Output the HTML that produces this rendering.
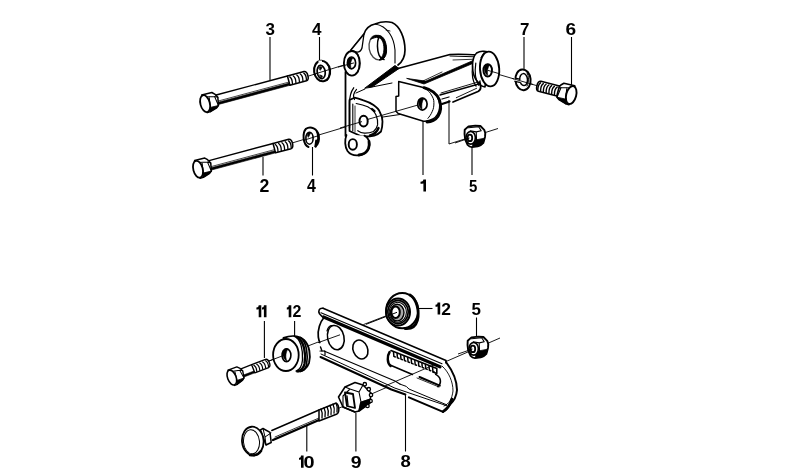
<!DOCTYPE html>
<html><head><meta charset="utf-8"><style>
html,body{margin:0;padding:0;background:#fff;width:799px;height:473px;overflow:hidden}
svg{display:block;will-change:transform}
text{font-family:"Liberation Sans",sans-serif}
</style></head><body>
<svg width="799" height="473" viewBox="0 0 799 473">
<rect width="799" height="473" fill="#fff"/>
<text x="265.50" y="34.50" font-family="Liberation Sans" font-weight="bold" font-size="17.00" textLength="9.45" lengthAdjust="spacingAndGlyphs">3</text>
<text x="312.00" y="34.50" font-family="Liberation Sans" font-weight="bold" font-size="17.00" textLength="9.50" lengthAdjust="spacingAndGlyphs">4</text>
<text x="520.00" y="34.50" font-family="Liberation Sans" font-weight="bold" font-size="17.00" textLength="9.45" lengthAdjust="spacingAndGlyphs">7</text>
<text x="565.50" y="34.50" font-family="Liberation Sans" font-weight="bold" font-size="17.00" textLength="10.63" lengthAdjust="spacingAndGlyphs">6</text>
<text x="259.50" y="192.00" font-family="Liberation Sans" font-weight="bold" font-size="17.71" textLength="9.85" lengthAdjust="spacingAndGlyphs">2</text>
<text x="307.00" y="192.00" font-family="Liberation Sans" font-weight="bold" font-size="17.71" textLength="8.86" lengthAdjust="spacingAndGlyphs">4</text>
<text x="469.00" y="191.50" font-family="Liberation Sans" font-weight="bold" font-size="17.00" textLength="8.34" lengthAdjust="spacingAndGlyphs">5</text>
<text x="292.40" y="317.30" font-family="Liberation Sans" font-weight="bold" font-size="17.00" textLength="8.87" lengthAdjust="spacingAndGlyphs">2</text>
<text x="441.20" y="314.50" font-family="Liberation Sans" font-weight="bold" font-size="17.00" textLength="9.72" lengthAdjust="spacingAndGlyphs">2</text>
<text x="471.50" y="314.50" font-family="Liberation Sans" font-weight="bold" font-size="17.00" textLength="9.45" lengthAdjust="spacingAndGlyphs">5</text>
<text x="303.60" y="467.80" font-family="Liberation Sans" font-weight="bold" font-size="17.28" textLength="11.08" lengthAdjust="spacingAndGlyphs">0</text>
<text x="350.80" y="467.80" font-family="Liberation Sans" font-weight="bold" font-size="17.28" textLength="10.81" lengthAdjust="spacingAndGlyphs">9</text>
<text x="400.60" y="467.00" font-family="Liberation Sans" font-weight="bold" font-size="17.28" textLength="10.29" lengthAdjust="spacingAndGlyphs">8</text>
<path d="M 423.40,179.50 L 426.00,179.50 L 426.00,191.50 L 423.40,191.50 L 423.40,183.50 C 422.60,183.60 421.30,183.70 420.50,183.70 L 420.50,181.80 C 422.30,181.70 423.10,180.90 423.40,179.50 Z" fill="#000"/>
<path d="M 258.70,305.30 L 261.30,305.30 L 261.30,317.30 L 258.70,317.30 L 258.70,309.30 C 257.90,309.40 257.20,309.50 256.40,309.50 L 256.40,307.60 C 258.20,307.50 258.40,306.70 258.70,305.30 Z" fill="#000"/>
<path d="M 263.90,305.30 L 266.50,305.30 L 266.50,317.30 L 263.90,317.30 L 263.90,309.30 C 263.10,309.40 262.80,309.50 262.00,309.50 L 262.00,307.60 C 263.80,307.50 263.60,306.70 263.90,305.30 Z" fill="#000"/>
<path d="M 288.70,305.30 L 291.30,305.30 L 291.30,317.30 L 288.70,317.30 L 288.70,309.30 C 287.90,309.40 287.60,309.50 286.80,309.50 L 286.80,307.60 C 288.60,307.50 288.40,306.70 288.70,305.30 Z" fill="#000"/>
<path d="M 437.60,302.50 L 440.20,302.50 L 440.20,314.50 L 437.60,314.50 L 437.60,306.50 C 436.80,306.60 436.30,306.70 435.50,306.70 L 435.50,304.80 C 437.30,304.70 437.30,303.90 437.60,302.50 Z" fill="#000"/>
<path d="M 301.00,455.60 L 303.60,455.60 L 303.60,467.80 L 301.00,467.80 L 301.00,459.60 C 300.20,459.70 299.80,459.80 299.00,459.80 L 299.00,457.90 C 300.80,457.80 300.70,457.00 301.00,455.60 Z" fill="#000"/>
<line x1="270" y1="37" x2="270" y2="80" stroke="#000" stroke-width="1.1"/>
<line x1="319.5" y1="37" x2="319.5" y2="61" stroke="#000" stroke-width="1.1"/>
<line x1="524" y1="37" x2="524" y2="70" stroke="#000" stroke-width="1.1"/>
<line x1="571.5" y1="37" x2="571.5" y2="85" stroke="#000" stroke-width="1.1"/>
<line x1="263" y1="157" x2="263" y2="175.5" stroke="#000" stroke-width="1.1"/>
<line x1="312.5" y1="147" x2="312.5" y2="175.5" stroke="#000" stroke-width="1.1"/>
<line x1="423" y1="121" x2="423" y2="175" stroke="#000" stroke-width="1.1"/>
<line x1="472" y1="147" x2="472" y2="175" stroke="#000" stroke-width="1.1"/>
<line x1="264.4" y1="321" x2="264.4" y2="358" stroke="#000" stroke-width="1.1"/>
<line x1="294.6" y1="321" x2="294.6" y2="336" stroke="#000" stroke-width="1.1"/>
<line x1="418" y1="308.5" x2="432.5" y2="308.5" stroke="#000" stroke-width="1.1"/>
<line x1="476.5" y1="317.5" x2="476.5" y2="337" stroke="#000" stroke-width="1.1"/>
<line x1="306.8" y1="426" x2="306.8" y2="451.5" stroke="#000" stroke-width="1.1"/>
<line x1="355.9" y1="413" x2="355.9" y2="451.5" stroke="#000" stroke-width="1.1"/>
<line x1="405.5" y1="395" x2="405.5" y2="451.5" stroke="#000" stroke-width="1.1"/>
<line x1="307" y1="76.5" x2="352" y2="62.5" stroke="#000" stroke-width="0.9"/>
<line x1="292" y1="143" x2="422" y2="104" stroke="#000" stroke-width="0.9"/>
<line x1="487" y1="71" x2="538" y2="86" stroke="#000" stroke-width="0.9"/>
<line x1="449" y1="144" x2="498" y2="128.5" stroke="#000" stroke-width="0.9"/>
<line x1="269" y1="361" x2="396" y2="312" stroke="#000" stroke-width="0.9"/>
<line x1="337" y1="409" x2="500" y2="338" stroke="#000" stroke-width="0.9"/>
<line x1="449" y1="95" x2="449" y2="144" stroke="#000" stroke-width="1.0"/>
<path d="M 366,87 L 396,67 L 450,54.5 L 478,54 L 499,70 L 486,87 L 479,91 L 453,102 L 440,96 L 439,106 L 427,121 L 400,115 L 383,117 L 378,107 L 365,99 L 356,93 Z" fill="#fff" stroke="#000" stroke-width="0" stroke-linejoin="round" stroke-linecap="round" />
<path d="M 345.5,70 L 360,72 L 366,87 L 356,93 L 381,110 L 382,123 L 376,132 L 366,145 L 366,152 L 352,157 L 344,148 L 345.5,136 Z" fill="#fff" stroke="#000" stroke-width="0" stroke-linejoin="round" stroke-linecap="round" />
<path d="M 351,50 L 364,34 C 366,28 370,25 375,24 C 380,22 386,21 392,22.5 C 400,26 405,38 405,50 C 405,57 402,62 398,65" fill="#fff" stroke="#000" stroke-width="1.7" stroke-linejoin="round" stroke-linecap="round" />
<path d="M 375,24 C 388,26 394,38 395,50 L 395,63" fill="none" stroke="#000" stroke-width="1.1" stroke-linejoin="round" stroke-linecap="round" />
<path d="M 386,30 L 390,31" fill="none" stroke="#000" stroke-width="0.9" stroke-linejoin="round" stroke-linecap="round" />
<path d="M 351,50 L 364,34 L 362,48 C 361,51 359,52.5 356,52 Z" fill="#fff" stroke="#000" stroke-width="1.3" stroke-linejoin="round" stroke-linecap="round" />
<ellipse cx="377.6" cy="47.6" rx="8.5" ry="12.4" transform="rotate(-10 377.6 47.6)" fill="#fff" stroke="#444" stroke-width="1.3"/>
<path d="M 371,39 C 373,35.5 378,34.5 381,36 C 385,38 387,45 386.5,52 C 386,57 383,60.5 379,60 C 382,58 384,54 384,49 C 384,43 382,38 378,37.5 C 376,37 374,38 371,39 Z" fill="#000" stroke="#000" stroke-width="1.0" stroke-linejoin="round" stroke-linecap="round" />
<path d="M 378.5,38 C 377,42 377,50 379,55 C 380,57.5 382,59 384,59.5" fill="none" stroke="#000" stroke-width="1.5" stroke-linejoin="round" stroke-linecap="round" />
<ellipse cx="351.9" cy="63.3" rx="8.0" ry="12.3" fill="#fff" stroke="#000" stroke-width="1.9"/>
<path d="M 357.5,54 C 359.5,57 360,66 358,72" fill="none" stroke="#000" stroke-width="1.0" stroke-linejoin="round" stroke-linecap="round" />
<ellipse cx="351.5" cy="62.9" rx="4.1" ry="5.9" fill="#fff" stroke="#000" stroke-width="1.7"/>
<line x1="338" y1="67.1" x2="354" y2="62.9" stroke="#000" stroke-width="0.9"/>
<path d="M 348,60 C 349,57 352,57 353,58 C 351,60 350,64 351,68 C 349,67 347,64 348,60 Z" fill="#000" stroke="#000" stroke-width="0.5" stroke-linejoin="round" stroke-linecap="round" />
<path d="M 345.5,72 L 345.5,136" fill="none" stroke="#000" stroke-width="1.8" stroke-linejoin="round" stroke-linecap="round" />
<path d="M 365,88 L 395,65.5 L 399,68.5 L 372,87 Z" fill="#000" stroke="#000" stroke-width="1.0" stroke-linejoin="round" stroke-linecap="round" />
<path d="M 398,68.5 L 450,54.5 C 460,54 470,54.5 478,55" fill="none" stroke="#000" stroke-width="1.6" stroke-linejoin="round" stroke-linecap="round" />
<path d="M 372,87 L 392,83" fill="none" stroke="#000" stroke-width="1" stroke-linejoin="round" stroke-linecap="round" />
<path d="M 356,93 L 365,89" fill="none" stroke="#000" stroke-width="1" stroke-linejoin="round" stroke-linecap="round" />
<path d="M 407,78.5 L 424,84 L 481,60 L 480,57.5 L 426,81 Z" fill="#000" stroke="#000" stroke-width="0.8" stroke-linejoin="round" stroke-linecap="round" />
<path d="M 423,81 L 442,72" fill="none" stroke="#000" stroke-width="0.8" stroke-linejoin="round" stroke-linecap="round" />
<path d="M 450,56 L 481,57" fill="none" stroke="#000" stroke-width="1" stroke-linejoin="round" stroke-linecap="round" />
<path d="M 453,60 L 480,59" fill="none" stroke="#000" stroke-width="0.8" stroke-linejoin="round" stroke-linecap="round" />
<path d="M 476.6,53 C 479,51.5 482,51 484,51.3 L 489,52 L 485,87 C 482,86.5 480,85.5 478.7,83 C 474.5,79 472.5,72 472.5,66 C 472.5,60 474,55.5 476.6,53 Z" fill="#fff" stroke="#000" stroke-width="1.6" stroke-linejoin="round" stroke-linecap="round" />
<path d="M 472.6,66 C 471.8,72 472.5,81 476,86.2" fill="none" stroke="#000" stroke-width="1.2" stroke-linejoin="round" stroke-linecap="round" />
<path d="M 475.8,63 C 474.8,70 475.2,80 478.9,85.3" fill="none" stroke="#000" stroke-width="1.2" stroke-linejoin="round" stroke-linecap="round" />
<ellipse cx="489.6" cy="69" rx="9.6" ry="17.4" transform="rotate(-4 489.6 69)" fill="#fff" stroke="#000" stroke-width="1.9"/>
<path d="M 484,52.5 L 481,57.5" fill="none" stroke="#000" stroke-width="1.0" stroke-linejoin="round" stroke-linecap="round" />
<ellipse cx="487.7" cy="70.3" rx="4.3" ry="6.2" fill="#fff" stroke="#000" stroke-width="1.9"/>
<path d="M 484.7,66.3 C 485.7,63.8 488.7,63.8 489.7,64.8 C 487.7,67.3 487.2,71.3 487.7,75.3 C 485.2,74.3 483.7,70.3 484.7,66.3 Z" fill="#000" stroke="#000" stroke-width="0.5" stroke-linejoin="round" stroke-linecap="round" />
<line x1="487.7" y1="70.3" x2="500" y2="73.9" stroke="#000" stroke-width="0.9"/>
<path d="M 398.7,81.6 L 421.3,87.1 C 427,88.5 433,91 436,95 C 439.5,99.5 440,104 439.6,108 C 439,112.5 437,116.5 433,119 C 430,120.8 427,121.5 423.5,121.2 L 398.2,113.5 L 396,111.3 L 396,96.4 L 398.7,95.9 Z" fill="#fff" stroke="#000" stroke-width="1.5" stroke-linejoin="round" stroke-linecap="round" />
<path d="M 424,87.6 C 431,89.5 437,93.5 439.5,100 C 441.5,106 441,112 438,116.5 C 435.5,120 431.5,122 427,122" fill="none" stroke="#000" stroke-width="2.8" stroke-linejoin="round" stroke-linecap="round" />
<path d="M 423.5,88.2 C 427,89.5 429.5,91.5 430.6,93.7 C 432.8,97 434,99.5 433.9,102.5 C 434,106 433.5,109 432.3,111.3 C 431,114.5 429.5,116.5 427.9,118.4" fill="none" stroke="#000" stroke-width="1.0" stroke-linejoin="round" stroke-linecap="round" />
<ellipse cx="422.4" cy="104.1" rx="4.7" ry="6" fill="#fff" stroke="#000" stroke-width="1.7"/>
<path d="M 419,100 C 420,97.5 423,97.5 424,98.5 C 422,101 421.5,105 422,109 C 419.5,108 418,104 419,100 Z" fill="#000" stroke="#000" stroke-width="0.5" stroke-linejoin="round" stroke-linecap="round" />
<path d="M 433,117 L 437,115" fill="none" stroke="#000" stroke-width="1.2" stroke-linejoin="round" stroke-linecap="round" stroke-opacity="0"/>
<path d="M 440,95 L 477,84.5 C 479,84 480,83 480,81" fill="none" stroke="#000" stroke-width="1.4" stroke-linejoin="round" stroke-linecap="round" />
<path d="M 442,99 L 449,97" fill="none" stroke="#000" stroke-width="1.3" stroke-linejoin="round" stroke-linecap="round" />
<path d="M 442,104 L 449.5,101.5" fill="none" stroke="#000" stroke-width="2.2" stroke-linejoin="round" stroke-linecap="round" />
<path d="M 456.3,97.7 L 476.6,88.3" fill="none" stroke="#000" stroke-width="0.9" stroke-linejoin="round" stroke-linecap="round" />
<path d="M 453,102 L 478,91.5 C 481,90 481,86 480,83" fill="none" stroke="#000" stroke-width="1.8" stroke-linejoin="round" stroke-linecap="round" />
<path d="M 441,93 L 478,82" fill="none" stroke="#000" stroke-width="0.9" stroke-linejoin="round" stroke-linecap="round" />
<path d="M 383,117 L 400,114.5" fill="none" stroke="#000" stroke-width="1.0" stroke-linejoin="round" stroke-linecap="round" />
<path d="M 349.5,100 L 354.5,97.7 C 358,98.5 360,99.2 362.8,100.2 C 367,101.5 370.5,103 373.5,105.1 C 377,107.5 379,109.5 380,112.5 C 382,116 382.7,119 382.5,121.6 C 382.5,125 382,128.5 381,131.5 C 379,133.5 377,135 374.3,135.6 C 371,136.3 367.5,136.6 364.4,136.5 C 361,136.3 358.5,135.3 356.2,134 L 349.5,131 Z" fill="#fff" stroke="#000" stroke-width="1.8" stroke-linejoin="round" stroke-linecap="round" />
<path d="M 356.2,103.5 C 360,104.3 364,105.3 367.7,106.8 C 371.5,109 374.5,111.5 376,115 C 377.5,118.5 378,121.5 377.6,124.9 C 377,127.5 375.5,130 373.5,131.5 C 370.5,132.8 367.5,133.3 364.4,133.2 C 362,133 359.5,132 357.8,130.7" fill="none" stroke="#000" stroke-width="1.2" stroke-linejoin="round" stroke-linecap="round" />
<path d="M 372,109 L 374.5,111.2" fill="none" stroke="#000" stroke-width="2.2" stroke-linejoin="round" stroke-linecap="round" stroke="#fff"/>
<path d="M 378.5,128 C 377,132 374,134.5 370,135.5" fill="none" stroke="#000" stroke-width="2.4" stroke-linejoin="round" stroke-linecap="round" />
<path d="M 353.7,87.8 C 350.5,92 349.5,97 349.5,103.5 L 349.5,128" fill="none" stroke="#000" stroke-width="1.3" stroke-linejoin="round" stroke-linecap="round" />
<path d="M 356.5,89.4 C 353.5,93 352.8,96.5 354.5,99.5" fill="none" stroke="#000" stroke-width="1.2" stroke-linejoin="round" stroke-linecap="round" />
<path d="M 352.8,104 L 352.8,131" fill="none" stroke="#000" stroke-width="1.1" stroke-linejoin="round" stroke-linecap="round" />
<path d="M 355,106 L 355,132" fill="none" stroke="#000" stroke-width="0.8" stroke-linejoin="round" stroke-linecap="round" />
<ellipse cx="363.6" cy="121.2" rx="4.1" ry="5.4" fill="#fff" stroke="#000" stroke-width="2.0"/>
<path d="M 346.5,135 C 344.5,140 344.8,147 347.5,151 C 350,154.5 354,155.6 357.8,155.4 C 362,155.2 365.5,153.5 367.5,150.5 C 369.5,147.5 369.8,143 368.5,139.8 C 367.5,137.5 366,136.3 364.4,135.6" fill="#fff" stroke="#000" stroke-width="1.8" stroke-linejoin="round" stroke-linecap="round" />
<path d="M 359,155 C 363.5,154.5 367,152 368.5,148.5 C 369.3,146 369.4,143.5 369,141.5" fill="none" stroke="#000" stroke-width="2.8" stroke-linejoin="round" stroke-linecap="round" />
<ellipse cx="352.8" cy="144.4" rx="4.1" ry="5.3" fill="#fff" stroke="#000" stroke-width="1.9"/>
<line x1="367" y1="119.6" x2="418" y2="105" stroke="#000" stroke-width="0.9"/>
<line x1="340" y1="128" x2="362" y2="121.6" stroke="#000" stroke-width="0.9"/>
<ellipse cx="322.1" cy="71" rx="8.0" ry="10.3" fill="#fff" stroke="#000" stroke-width="2.1" transform="rotate(-8 322.1 71)"/>
<path d="M 318.5,60.4 L 322,60.6 L 322,63 L 318.5,62.8 Z" fill="#fff" stroke="#000" stroke-width="0" stroke-linejoin="round" stroke-linecap="round" />
<ellipse cx="321.2" cy="72" rx="4.0" ry="6.6" fill="#fff" stroke="#000" stroke-width="1.7" transform="rotate(-8 321.2 72)"/>
<path d="M 327,63.5 C 330,67 330.5,76 327,80.5" fill="none" stroke="#000" stroke-width="1.1" stroke-linejoin="round" stroke-linecap="round" />
<path d="M 319,68 C 320,66.5 321.5,66.5 322,67.5 L 320.5,70 Z M 320,75 L 322.5,76 L 321,78 Z" fill="#000" stroke="#000" stroke-width="0.8" stroke-linejoin="round" stroke-linecap="round" />
<line x1="313" y1="74.6" x2="331" y2="69" stroke="#000" stroke-width="0.9"/>
<path d="M 308.5,147 C 303,145 302,133 306,128.8 C 310.5,125.5 317.5,128.5 318.8,135.5 C 319.5,140.5 318,144.5 315.5,146.5" fill="#fff" stroke="#000" stroke-width="2.0" stroke-linejoin="round" stroke-linecap="round" />
<ellipse cx="309.5" cy="138.2" rx="3.6" ry="6.0" fill="#fff" stroke="#000" stroke-width="1.6" transform="rotate(0 309.5 138.2)"/>
<path d="M 307,134 C 308,132 309.5,132 310.5,133 L 308.5,137 Z" fill="#000" stroke="#000" stroke-width="0.8" stroke-linejoin="round" stroke-linecap="round" />
<path d="M 315.5,146.5 L 316.3,140.5" fill="none" stroke="#000" stroke-width="2.2" stroke-linejoin="round" stroke-linecap="round" />
<path d="M 316.5,131 C 318.5,135 318.5,141 316.5,144" fill="none" stroke="#000" stroke-width="1.6" stroke-linejoin="round" stroke-linecap="round" />
<line x1="303" y1="140.5" x2="319" y2="135.5" stroke="#000" stroke-width="0.9"/>
<ellipse cx="523" cy="79.8" rx="7.6" ry="10.4" fill="#fff" stroke="#000" stroke-width="2.0" transform="rotate(-5 523 79.8)"/>
<ellipse cx="523.6" cy="79.6" rx="3.9" ry="6.0" fill="#fff" stroke="#000" stroke-width="1.5" transform="rotate(-5 523.6 79.6)"/>
<path d="M 514,78.3 L 521,80.3 L 521,82.3 L 514,80.6 Z" fill="#fff" stroke="#000" stroke-width="0" stroke-linejoin="round" stroke-linecap="round" />
<path d="M 515.5,78.2 L 519.5,79.2 M 515,81.3 L 519.5,82.3" fill="none" stroke="#000" stroke-width="1.2" stroke-linejoin="round" stroke-linecap="round" />
<path d="M 527,73 C 529,76 529,82 527,86" fill="none" stroke="#000" stroke-width="1.0" stroke-linejoin="round" stroke-linecap="round" />
<line x1="512" y1="78.4" x2="533" y2="84.5" stroke="#000" stroke-width="0.9"/>
<g transform="translate(0,0)">
<path d="M 464.7,129.8 L 468.5,126.4 L 475.3,125.6 L 480.4,126 L 484.2,129.8 C 485.5,132 485.5,135 485,137 L 483.3,142.9 C 481.5,145 479.5,146 477.8,146.3 L 471.9,147.1 C 469.5,147 468.5,146 467.7,145 L 465.2,139.5 C 464.5,136 464.4,132 464.7,129.8 Z" fill="#fff" stroke="#000" stroke-width="1.9" stroke-linejoin="round" stroke-linecap="round" />
<path d="M 473.2,140.4 L 484.6,138.2 L 483.3,142.9 C 481.5,145 479.5,146 477.8,146.3 L 472.8,146.7 Z" fill="#000" stroke="#000" stroke-width="0.8" stroke-linejoin="round" stroke-linecap="round" />
<path d="M 468.5,127.7 L 478.7,126.8 L 481.2,130.7 L 476.2,131.9 L 470.2,130.7 M 476.2,131.9 L 476.6,141" fill="none" stroke="#000" stroke-width="1.1" stroke-linejoin="round" stroke-linecap="round" />
<ellipse cx="470.7" cy="137.8" rx="4.65" ry="6.3" fill="#fff" stroke="#000" stroke-width="1.6" transform="rotate(0 470.7 137.8)"/>
<ellipse cx="469.9" cy="137.9" rx="2.3" ry="3.3" fill="#fff" stroke="#000" stroke-width="1.8" transform="rotate(0 469.9 137.9)"/>
<line x1="455" y1="143" x2="469.5" y2="138" stroke="#000" stroke-width="0.9"/>
</g>
<g transform="translate(3.0,211.0)">
<path d="M 464.7,129.8 L 468.5,126.4 L 475.3,125.6 L 480.4,126 L 484.2,129.8 C 485.5,132 485.5,135 485,137 L 483.3,142.9 C 481.5,145 479.5,146 477.8,146.3 L 471.9,147.1 C 469.5,147 468.5,146 467.7,145 L 465.2,139.5 C 464.5,136 464.4,132 464.7,129.8 Z" fill="#fff" stroke="#000" stroke-width="1.9" stroke-linejoin="round" stroke-linecap="round" />
<path d="M 473.2,140.4 L 484.6,138.2 L 483.3,142.9 C 481.5,145 479.5,146 477.8,146.3 L 472.8,146.7 Z" fill="#000" stroke="#000" stroke-width="0.8" stroke-linejoin="round" stroke-linecap="round" />
<path d="M 468.5,127.7 L 478.7,126.8 L 481.2,130.7 L 476.2,131.9 L 470.2,130.7 M 476.2,131.9 L 476.6,141" fill="none" stroke="#000" stroke-width="1.1" stroke-linejoin="round" stroke-linecap="round" />
<ellipse cx="470.7" cy="137.8" rx="4.65" ry="6.3" fill="#fff" stroke="#000" stroke-width="1.6" transform="rotate(0 470.7 137.8)"/>
<ellipse cx="469.9" cy="137.9" rx="2.3" ry="3.3" fill="#fff" stroke="#000" stroke-width="1.8" transform="rotate(0 469.9 137.9)"/>
<line x1="455" y1="143" x2="469.5" y2="138" stroke="#000" stroke-width="0.9"/>
</g>
<path d="M 283.5,338 C 291,335 299,335.5 304,340 C 309.5,345 311,356 309,363 C 307,369 302,372 297,371.5 L 286,371 Z" fill="#fff" stroke="#000" stroke-width="0" stroke-linejoin="round" stroke-linecap="round" />
<path d="M 283.5,338 C 291,335 299,335.5 304,340 C 309.5,345 311,356 309,363 C 307,369 302,372 297,371.5" fill="none" stroke="#000" stroke-width="1.9" stroke-linejoin="round" stroke-linecap="round" />
<path d="M 297,337 C 304,341 306.5,354 304.5,364 C 303.5,368 301,370.5 298,371" fill="none" stroke="#000" stroke-width="2.4" stroke-linejoin="round" stroke-linecap="round" />
<path d="M 300.5,337.5 C 306.5,342 308.5,355 306.5,365 C 305.5,368.5 303.5,370.5 300.5,371.5" fill="none" stroke="#000" stroke-width="1.6" stroke-linejoin="round" stroke-linecap="round" />
<path d="M 294,336.2 C 301,339 303,350 302.5,360 C 302,366 300,369.5 296,371" fill="none" stroke="#000" stroke-width="1.3" stroke-linejoin="round" stroke-linecap="round" />
<ellipse cx="285.9" cy="355" rx="12.8" ry="16" fill="#fff" stroke="#000" stroke-width="1.8" transform="rotate(0 285.9 355)"/>
<ellipse cx="286.5" cy="355.2" rx="4.4" ry="6.4" fill="#fff" stroke="#000" stroke-width="1.6" transform="rotate(0 286.5 355.2)"/>
<path d="M 283,351 C 284,349 286,348 288,349 C 286,352 285,357 287,361 C 284,360 282,355 283,351 Z" fill="#000" stroke="#000" stroke-width="0.5" stroke-linejoin="round" stroke-linecap="round" />
<line x1="269" y1="361" x2="286" y2="354.5" stroke="#000" stroke-width="0.9"/>
<ellipse cx="402.2" cy="310.6" rx="16" ry="17.7" fill="#fff" stroke="#000" stroke-width="2.0" transform="rotate(0 402.2 310.6)"/>
<path d="M 410,295 C 417,299 419.5,312 417.5,320 C 415.5,327 410,329 405,328.5" fill="none" stroke="#000" stroke-width="2.8" stroke-linejoin="round" stroke-linecap="round" />
<ellipse cx="398" cy="312" rx="12" ry="13.5" fill="#fff" stroke="#000" stroke-width="2.0" transform="rotate(0 398 312)"/>
<ellipse cx="398" cy="312" rx="10.2" ry="11.6" fill="#ccc" stroke="#000" stroke-width="1.6" transform="rotate(0 398 312)"/>
<ellipse cx="397.8" cy="312.3" rx="8.6" ry="10" fill="#fff" stroke="#000" stroke-width="1.1" transform="rotate(0 397.8 312.3)"/>
<ellipse cx="397.2" cy="312.6" rx="6.8" ry="8.3" fill="#aaa" stroke="#000" stroke-width="1.4" transform="rotate(0 397.2 312.6)"/>
<ellipse cx="395.6" cy="312.3" rx="4.2" ry="5.8" fill="#fff" stroke="#000" stroke-width="2.0" transform="rotate(0 395.6 312.3)"/>
<line x1="366" y1="324.3" x2="397" y2="312.3" stroke="#000" stroke-width="1.0"/>
<path d="M 320,306 L 446,360 L 446,362 C 452,370 457,380 456,390 C 455,400 450,407 443,411 L 320.5,357 C 317,345 317,330 320,316 Z" fill="#fff" stroke="#000" stroke-width="0" stroke-linejoin="round" stroke-linecap="round" />
<path d="M 323,308.3 L 446,360.5 L 446,363" fill="none" stroke="#000" stroke-width="1.6" stroke-linejoin="round" stroke-linecap="round" />
<path d="M 321,312.8 L 442,363.8" fill="none" stroke="#000" stroke-width="1.1" stroke-linejoin="round" stroke-linecap="round" />
<path d="M 323.5,317 L 440,366.8" fill="none" stroke="#000" stroke-width="3.2" stroke-linejoin="round" stroke-linecap="round" />
<path d="M 323,308.3 C 319,307.8 318,311 319.5,313.8 L 322,316.5" fill="none" stroke="#000" stroke-width="1.6" stroke-linejoin="round" stroke-linecap="round" />
<path d="M 324,317.5 C 320,322 317.5,330 318.3,337 C 318.8,340 319.2,341.5 319.8,342.5" fill="none" stroke="#000" stroke-width="1.7" stroke-linejoin="round" stroke-linecap="round" />
<path d="M 320.5,347 L 322,351" fill="none" stroke="#000" stroke-width="1.4" stroke-linejoin="round" stroke-linecap="round" />
<path d="M 446,362 C 452,370 457,380 457,390 C 456.5,396 454,401 450,404.5 C 448,408 446,410.5 443.1,411.8" fill="none" stroke="#000" stroke-width="2.0" stroke-linejoin="round" stroke-linecap="round" />
<path d="M 442,366 C 449,372 453,382 453,391 C 452,399 449,404 444,406" fill="none" stroke="#000" stroke-width="0.9" stroke-linejoin="round" stroke-linecap="round" />
<path d="M 452,399 C 450,405 447,409 443,411.5" fill="none" stroke="#000" stroke-width="2.6" stroke-linejoin="round" stroke-linecap="round" />
<path d="M 324,351 L 395,381 L 400.2,384.2" fill="none" stroke="#000" stroke-width="1.1" stroke-linejoin="round" stroke-linecap="round" />
<path d="M 321,354 L 394.9,388.1 L 446.6,405.7" fill="none" stroke="#000" stroke-width="1.0" stroke-linejoin="round" stroke-linecap="round" />
<path d="M 320.5,357 L 391.4,389.5 L 405.4,394.5 M 408.9,397.3 L 443.1,411.8" fill="none" stroke="#000" stroke-width="2.0" stroke-linejoin="round" stroke-linecap="round" />
<path d="M 320,351 L 325,351 L 325,355" fill="none" stroke="#000" stroke-width="1.2" stroke-linejoin="round" stroke-linecap="round" />
<path d="M 400.2,384.2 L 406.3,386.4 L 408.9,389 L 446.6,404.8" fill="none" stroke="#000" stroke-width="1.0" stroke-linejoin="round" stroke-linecap="round" />
<ellipse cx="335.8" cy="337.6" rx="8.2" ry="12.3" fill="#fff" stroke="#000" stroke-width="1.6" transform="rotate(-12 335.8 337.6)"/>
<ellipse cx="360.4" cy="349.5" rx="7.2" ry="9.8" fill="#fff" stroke="#000" stroke-width="1.6" transform="rotate(-22 360.4 349.5)"/>
<path d="M 327,331 C 328,327 330,325.5 332,325.5" fill="none" stroke="#000" stroke-width="1.2" stroke-linejoin="round" stroke-linecap="round" />
<line x1="318" y1="342.7" x2="340" y2="334.8" stroke="#000" stroke-width="0.9"/>
<path d="M 391,350.6 L 436.8,368.4 L 436.8,373.4 L 433,372 M 390.6,365.3 L 412.4,374.4" fill="none" stroke="#000" stroke-width="1.6" stroke-linejoin="round" stroke-linecap="round" />
<path d="M 389.6,352 C 387,356 387,363 390.6,366" fill="none" stroke="#000" stroke-width="2.4" stroke-linejoin="round" stroke-linecap="round" />
<path d="M 393.5,352.2 L 393.9,356.4 L 395.3,357.0 M 397.1,353.6 L 397.4,357.8 L 398.9,358.4 M 400.6,354.9 L 401.0,359.1 L 402.4,359.7 M 404.1,356.3 L 404.5,360.5 L 405.9,361.1 M 407.7,357.7 L 408.1,361.9 L 409.5,362.5 M 411.2,359.1 L 411.6,363.3 L 413.1,363.9 M 414.8,360.5 L 415.2,364.7 L 416.6,365.3 M 418.4,361.8 L 418.8,366.0 L 420.2,366.6 M 421.9,363.2 L 422.3,367.4 L 423.7,368.0 M 425.4,364.6 L 425.8,368.8 L 427.2,369.4 M 429.0,366.0 L 429.4,370.2 L 430.8,370.8 M 432.6,367.4 L 432.9,371.6 L 434.4,372.2 " fill="none" stroke="#000" stroke-width="1.5" stroke-linejoin="round" stroke-linecap="round" />
<path d="M 419.5,377 L 439.8,385.6" fill="none" stroke="#000" stroke-width="2.0" stroke-linejoin="round" stroke-linecap="round" />
<path d="M 435.7,374.4 C 441,377 442,383 437.8,386.6" fill="none" stroke="#000" stroke-width="1.6" stroke-linejoin="round" stroke-linecap="round" />
<path d="M 417,378 L 439,387" fill="none" stroke="#000" stroke-width="0.8" stroke-linejoin="round" stroke-linecap="round" />
<line x1="385" y1="386" x2="436" y2="364" stroke="#000" stroke-width="0.9"/>
<path d="M 271.8,430.5 L 319,410" fill="none" stroke="#000" stroke-width="1.5" stroke-linejoin="round" stroke-linecap="round" />
<path d="M 273,440 L 319,420" fill="none" stroke="#000" stroke-width="2.4" stroke-linejoin="round" stroke-linecap="round" />
<path d="M 275,437 L 319,418" fill="none" stroke="#000" stroke-width="0.8" stroke-linejoin="round" stroke-linecap="round" />
<path d="M 319,410 L 335,403.5 C 339,402 340,412 337,414 L 319,421 Z" fill="#fff" stroke="#000" stroke-width="1.5" stroke-linejoin="round" stroke-linecap="round" />
<path d="M 321,409.0 Q 323,413.0 322,418.0 M 324,407.8 Q 326,411.8 325,416.8 M 327,406.6 Q 329,410.6 328,415.6 M 330,405.4 Q 332,409.4 331,414.4 M 333,404.2 Q 335,408.2 334,413.2 M 336,403.0 Q 338,407.0 337,412.0 " fill="none" stroke="#000" stroke-width="1.3" stroke-linejoin="round" stroke-linecap="round" />
<path d="M 260.4,429.8 L 263,428.5 L 270,432.4 L 271.2,442.5 L 266,445 Z" fill="#fff" stroke="#000" stroke-width="1.5" stroke-linejoin="round" stroke-linecap="round" />
<path d="M 263,428.5 L 265,437 L 266,445 M 265,437 L 271,433" fill="none" stroke="#000" stroke-width="1.0" stroke-linejoin="round" stroke-linecap="round" />
<ellipse cx="252.8" cy="441" rx="10.8" ry="14.3" fill="#fff" stroke="#000" stroke-width="1.8" transform="rotate(-5 252.8 441)"/>
<ellipse cx="251.5" cy="441.8" rx="8" ry="12" fill="#fff" stroke="#000" stroke-width="1.0" transform="rotate(-5 251.5 441.8)"/>
<path d="M 261,451 C 258,455 254,456 250,455" fill="none" stroke="#000" stroke-width="2.4" stroke-linejoin="round" stroke-linecap="round" />
<path d="M 338.5,397 L 345,387 L 355,382.5 L 363,385 L 371,393 L 370,403 L 359,411 L 355,412 L 343,407 Z" fill="#fff" stroke="#000" stroke-width="1.6" stroke-linejoin="round" stroke-linecap="round" />
<path d="M 345,387 L 350,389 L 359,392 L 363,385 M 359,392 L 361,402 L 359,411 M 350,389 L 343,396 L 343,407" fill="none" stroke="#000" stroke-width="1.1" stroke-linejoin="round" stroke-linecap="round" />
<path d="M 345,392.5 L 353,394 L 355,408 L 347,406 Z" fill="#fff" stroke="#000" stroke-width="1.8" stroke-linejoin="round" stroke-linecap="round" />
<path d="M 347,396 L 348,405" fill="none" stroke="#000" stroke-width="1.3" stroke-linejoin="round" stroke-linecap="round" />
<path d="M 361,402 L 370,399 L 370,403 L 359,411 Z" fill="#000" stroke="#000" stroke-width="0.6" stroke-linejoin="round" stroke-linecap="round" />
<circle cx="364.8" cy="384.2" r="1.7" fill="#fff" stroke="#000" stroke-width="1.3"/>
<circle cx="368.8" cy="389.2" r="1.7" fill="#fff" stroke="#000" stroke-width="1.3"/>
<circle cx="371" cy="395" r="1.7" fill="#fff" stroke="#000" stroke-width="1.3"/>
<circle cx="370.6" cy="401" r="1.7" fill="#fff" stroke="#000" stroke-width="1.3"/>
<circle cx="367.5" cy="406" r="1.7" fill="#fff" stroke="#000" stroke-width="1.3"/>
<path d="M 361,402 L 370,399 L 370,403 L 359,411 Z" fill="#000" stroke="#000" stroke-width="0.6" stroke-linejoin="round" stroke-linecap="round" />
<path d="M 343,407 L 355,412" fill="none" stroke="#000" stroke-width="1.4" stroke-linejoin="round" stroke-linecap="round" />
<g transform="translate(205.3,103.6) rotate(-15) scale(0.94)" stroke-linejoin="round" stroke-linecap="round">
<path d="M -1.3,-9.9 L 9.8,-9.6 L 12.3,-7.2 L 14.6,-3 L 13,5.6 L 10.6,7.4 L 3.1,9.7 L -0.5,9.8 Z" fill="#fff" stroke="#000" stroke-width="1.6"/>
<path d="M 4,5.3 L 13,5.6 L 10.6,7.4 L 3.1,9.7 Z" fill="#000" stroke="#000" stroke-width="0.8"/>
<path d="M 1.8,-6.8 L 11.5,-4.8 L 14.6,-3 M 5.8,-5.9 L 4.2,5.3 L 3.1,9.7 M 11.5,-4.8 L 13,5.6" fill="none" stroke="#000" stroke-width="1.1"/>
<ellipse cx="-0.2" cy="0" rx="5.0" ry="9.2" fill="#fff" stroke="#000" stroke-width="1.9"/>
<path d="M 13.5,-5.8 L 92,-5.8" stroke="#000" stroke-width="1.5" fill="none"/>
<path d="M 13.5,2.1 L 92,2.1 L 92,4.5 L 13.5,4.5 Z" fill="#000" stroke="#000" stroke-width="0.6"/>
<path d="M 14.5,0.8999999999999999 L 92,0.8999999999999999" stroke="#000" stroke-width="0.7" fill="none"/>
<path d="M 92,-5.8 L 110.3,-5.8 Q 113.3,-5.3 113.1,-0.6499999999999999 Q 113.1,4.2 110.3,4.5 L 92,4.5 Z" stroke="#000" stroke-width="1.6" fill="#fff"/>
<path d="M 94.16,-4.20 Q 96.36,-1.65 94.96,3.70 M 98.02,-4.20 Q 100.22,-1.65 98.82,3.70 M 101.88,-4.20 Q 104.08,-1.65 102.68,3.70 M 105.74,-4.20 Q 107.94,-1.65 106.54,3.70 M 109.60,-4.20 Q 111.80,-1.65 110.40,3.70 " stroke="#000" stroke-width="1.4" fill="none"/>
</g>
<g transform="translate(198.2,169.2) rotate(-15) scale(0.94)" stroke-linejoin="round" stroke-linecap="round">
<path d="M -1.3,-9.9 L 9.8,-9.6 L 12.3,-7.2 L 14.6,-3 L 13,5.6 L 10.6,7.4 L 3.1,9.7 L -0.5,9.8 Z" fill="#fff" stroke="#000" stroke-width="1.6"/>
<path d="M 4,5.3 L 13,5.6 L 10.6,7.4 L 3.1,9.7 Z" fill="#000" stroke="#000" stroke-width="0.8"/>
<path d="M 1.8,-6.8 L 11.5,-4.8 L 14.6,-3 M 5.8,-5.9 L 4.2,5.3 L 3.1,9.7 M 11.5,-4.8 L 13,5.6" fill="none" stroke="#000" stroke-width="1.1"/>
<ellipse cx="-0.2" cy="0" rx="5.0" ry="9.2" fill="#fff" stroke="#000" stroke-width="1.9"/>
<path d="M 13.5,-5.8 L 84,-5.8" stroke="#000" stroke-width="1.5" fill="none"/>
<path d="M 13.5,2.1 L 84,2.1 L 84,4.5 L 13.5,4.5 Z" fill="#000" stroke="#000" stroke-width="0.6"/>
<path d="M 14.5,0.8999999999999999 L 84,0.8999999999999999" stroke="#000" stroke-width="0.7" fill="none"/>
<path d="M 84,-5.8 L 101.2,-5.8 Q 104.2,-5.3 104.0,-0.6499999999999999 Q 104.0,4.2 101.2,4.5 L 84,4.5 Z" stroke="#000" stroke-width="1.6" fill="#fff"/>
<path d="M 86.09,-4.20 Q 88.29,-1.65 86.89,3.70 M 89.73,-4.20 Q 91.93,-1.65 90.53,3.70 M 93.37,-4.20 Q 95.57,-1.65 94.17,3.70 M 97.01,-4.20 Q 99.21,-1.65 97.81,3.70 M 100.65,-4.20 Q 102.85,-1.65 101.45,3.70 " stroke="#000" stroke-width="1.4" fill="none"/>
</g>
<g transform="translate(571,95) rotate(14.4) scale(-1,1) scale(1.0)" stroke-linejoin="round" stroke-linecap="round">
<path d="M -1.3,-9.9 L 9.8,-9.6 L 12.3,-7.2 L 14.6,-3 L 13,5.6 L 10.6,7.4 L 3.1,9.7 L -0.5,9.8 Z" fill="#fff" stroke="#000" stroke-width="1.6"/>
<path d="M 4,5.3 L 13,5.6 L 10.6,7.4 L 3.1,9.7 Z" fill="#000" stroke="#000" stroke-width="0.8"/>
<path d="M 1.8,-6.8 L 11.5,-4.8 L 14.6,-3 M 5.8,-5.9 L 4.2,5.3 L 3.1,9.7 M 11.5,-4.8 L 13,5.6" fill="none" stroke="#000" stroke-width="1.1"/>
<ellipse cx="-0.2" cy="0" rx="5.0" ry="9.2" fill="#fff" stroke="#000" stroke-width="1.9"/>
<path d="M 13.5,-5.8 L 13.5,-5.8" stroke="#000" stroke-width="1.5" fill="none"/>
<path d="M 13.5,2.1 L 13.5,2.1 L 13.5,4.5 L 13.5,4.5 Z" fill="#000" stroke="#000" stroke-width="0.6"/>
<path d="M 13.5,-5.8 L 32.5,-5.8 Q 35.5,-5.3 35.3,-0.6499999999999999 Q 35.3,4.2 32.5,4.5 L 13.5,4.5 Z" stroke="#000" stroke-width="1.6" fill="#fff"/>
<path d="M 15.36,-4.20 Q 17.56,-1.65 16.16,3.70 M 18.21,-4.20 Q 20.41,-1.65 19.01,3.70 M 21.07,-4.20 Q 23.27,-1.65 21.87,3.70 M 23.93,-4.20 Q 26.13,-1.65 24.73,3.70 M 26.79,-4.20 Q 28.99,-1.65 27.59,3.70 M 29.64,-4.20 Q 31.84,-1.65 30.44,3.70 M 32.50,-4.20 Q 34.70,-1.65 33.30,3.70 " stroke="#000" stroke-width="1.4" fill="none"/>
</g>
<g transform="translate(232,377.5) rotate(-21) scale(0.85)" stroke-linejoin="round" stroke-linecap="round">
<path d="M -1.3,-9.9 L 9.8,-9.6 L 12.3,-7.2 L 14.6,-3 L 13,5.6 L 10.6,7.4 L 3.1,9.7 L -0.5,9.8 Z" fill="#fff" stroke="#000" stroke-width="1.6"/>
<path d="M 4,5.3 L 13,5.6 L 10.6,7.4 L 3.1,9.7 Z" fill="#000" stroke="#000" stroke-width="0.8"/>
<path d="M 1.8,-6.8 L 11.5,-4.8 L 14.6,-3 M 5.8,-5.9 L 4.2,5.3 L 3.1,9.7 M 11.5,-4.8 L 13,5.6" fill="none" stroke="#000" stroke-width="1.1"/>
<ellipse cx="-0.2" cy="0" rx="5.0" ry="9.2" fill="#fff" stroke="#000" stroke-width="1.9"/>
<path d="M 13.5,-5.8 L 27,-5.8" stroke="#000" stroke-width="1.5" fill="none"/>
<path d="M 13.5,2.1 L 27,2.1 L 27,4.5 L 13.5,4.5 Z" fill="#000" stroke="#000" stroke-width="0.6"/>
<path d="M 27,-5.8 L 44.5,-5.8 Q 47.5,-5.3 47.3,-0.6499999999999999 Q 47.3,4.2 44.5,4.5 L 27,4.5 Z" stroke="#000" stroke-width="1.6" fill="#fff"/>
<path d="M 29.11,-4.20 Q 31.31,-1.65 29.91,3.70 M 32.81,-4.20 Q 35.01,-1.65 33.61,3.70 M 36.51,-4.20 Q 38.71,-1.65 37.31,3.70 M 40.21,-4.20 Q 42.41,-1.65 41.01,3.70 M 43.91,-4.20 Q 46.11,-1.65 44.71,3.70 " stroke="#000" stroke-width="1.4" fill="none"/>
</g>
</svg>
</body></html>
